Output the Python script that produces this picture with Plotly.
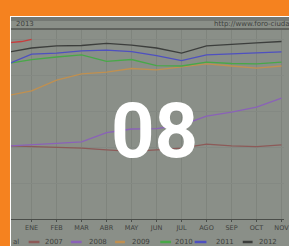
import plotly.graph_objects as go

# ---- data ----
month_labels = ["ENE", "FEB", "MAR", "ABR", "MAY", "JUN", "JUL", "AGO", "SEP", "OCT", "NOV", "DIC"]
month_ticks = [1, 2, 3, 4, 5, 6, 7, 8, 9, 10, 11, 12]
x_points = [0.135, 1, 2, 3, 4, 5, 6, 7, 8, 9, 10, 11]

y2007 = [203, 201, 200, 197, 192, 188, 192, 197, 208, 203, 201, 206]
y2008 = [203, 207, 210, 214, 240, 250, 251, 261, 286, 297, 311, 336]
y2009 = [344, 356, 386, 403, 408, 418, 414, 422, 431, 425, 419, 425]
y2010 = [433, 443, 450, 456, 438, 443, 426, 425, 436, 432, 431, 436]
y2011 = [433, 458, 461, 467, 469, 465, 454, 440, 456, 458, 461, 464]
y2012 = [464, 475, 481, 482, 488, 483, 475, 461, 481, 486, 489, 493]
x2013 = [0.135, 0.6, 1.0]
y2013 = [490, 493, 499]

series = [
    ("2007", y2007, "#8c5a58"),
    ("2008", y2008, "#8a62b8"),
    ("2009", y2009, "#c09050"),
    ("2010", y2010, "#48a848"),
    ("2011", y2011, "#4e50c0"),
    ("2012", y2012, "#3c3e3c"),
]

ORANGE = "#f5821f"
PANEL = "#8a8f88"
TEXT = "#3e413d"

W, H = 289, 246
L, R, T, B = 10, 0, 30, 27
PW, PH = W - L - R, H - T - B


def xp(px):
    return (px - L) / PW


def yp(py):
    return (H - B - py) / PH


fig = go.Figure()
for name, ys, col in series:
    fig.add_trace(go.Scatter(x=x_points, y=ys, mode="lines", name=name,
                             line=dict(color=col, width=1.3), showlegend=False))
fig.add_trace(go.Scatter(x=x2013, y=y2013, mode="lines", name="2013",
                         line=dict(color="#c83c3c", width=1.3), showlegend=False))

shapes = [
    dict(type="rect", xref="paper", yref="paper", x0=xp(10), x1=xp(300), y0=yp(250), y1=yp(16),
         fillcolor=PANEL, line=dict(width=0), layer="below"),
    dict(type="rect", xref="paper", yref="paper", x0=xp(10), x1=xp(300), y0=yp(21), y1=yp(17),
         fillcolor="#747873", line=dict(width=0), layer="below"),
    dict(type="rect", xref="paper", yref="paper", x0=xp(10), x1=xp(300), y0=yp(30), y1=yp(28),
         fillcolor="#60635e", line=dict(width=0), layer="below"),
    dict(type="line", xref="paper", yref="paper", x0=xp(10), x1=xp(300), y0=yp(16.5), y1=yp(16.5),
         line=dict(color="white", width=1), layer="above"),
    dict(type="line", xref="paper", yref="paper", x0=xp(10.5), x1=xp(10.5), y0=yp(16.5), y1=yp(250),
         line=dict(color="white", width=1), layer="above"),
]

annotations = [
    dict(text="2013", x=xp(14), y=yp(24), xref="paper", yref="paper", xanchor="left", yanchor="middle",
         showarrow=False, font=dict(size=7, color=TEXT, family="DejaVu Sans")),
    dict(text="http://www.foro-ciudad.com", x=xp(216), y=yp(24), xref="paper", yref="paper",
         xanchor="left", yanchor="middle", showarrow=False,
         font=dict(size=7, color=TEXT, family="DejaVu Sans")),
    dict(text="al", x=xp(11), y=yp(242), xref="paper", yref="paper", xanchor="left", yanchor="middle",
         showarrow=False, font=dict(size=7, color=TEXT, family="DejaVu Sans")),
    dict(text="<b>08</b>", x=xp(157), y=yp(131), xref="paper", yref="paper", xanchor="center",
         yanchor="middle", showarrow=False, font=dict(size=76, color="white", family="Roboto")),
]

leg_line_x = [(29, 40), (72, 83), (117, 127), (163, 174), (198, 210), (247, 257)]
leg_text_x = [44, 88, 132, 176, 218, 262]
for (name, ys, col), (a, b), tx in zip(series, leg_line_x, leg_text_x):
    shapes.append(dict(type="line", xref="paper", yref="paper", x0=xp(a), x1=xp(b), y0=yp(242), y1=yp(242),
                       line=dict(color=col, width=2.5), layer="above"))
    annotations.append(dict(text=name, x=xp(tx), y=yp(242), xref="paper", yref="paper", xanchor="left",
                            yanchor="middle", showarrow=False,
                            font=dict(size=7, color=TEXT, family="DejaVu Sans")))

fig.update_layout(
    width=W, height=H,
    margin=dict(l=L, r=R, t=T, b=B, pad=0),
    paper_bgcolor=ORANGE,
    plot_bgcolor=PANEL,
    showlegend=False,
    shapes=shapes,
    annotations=annotations,
    xaxis=dict(range=[0.135, 11.1], tickvals=month_ticks, ticktext=month_labels,
               showgrid=True, gridcolor="#7f847d", gridwidth=1, zeroline=False,
               showline=True, linecolor="#4a4d49", linewidth=1,
               ticks="outside", ticklen=2, tickcolor="#4a4d49",
               ticklabeloverflow="allow",
               tickfont=dict(size=6.5, color=TEXT, family="DejaVu Sans")),
    yaxis=dict(range=[0, 525], dtick=100, showticklabels=False, showgrid=True,
               gridcolor="#848983", gridwidth=1, zeroline=False, ticks=""),
)

fig.write_html("out.html",
               config={"displayModeBar": False},
               post_script="document.body.style.margin='0';document.body.style.padding='0';"
                           "document.body.style.overflow='hidden';")
